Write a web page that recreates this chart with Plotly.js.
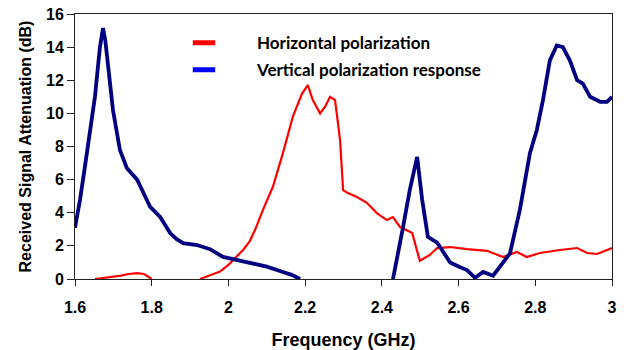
<!DOCTYPE html>
<html><head><meta charset="utf-8">
<script src="https://cdn.plot.ly/plotly-3.0.1.min.js"></script>
<style>html,body{margin:0;padding:0;background:#fff}</style>
</head><body><div id="chart" style="width:624px;height:350px"></div>
<script>
// Horizontal polarization (GHz, dB)
const hFreq = [1.652,1.67,1.699,1.72,1.74,1.762,1.78,1.796,1.80,null,
  1.926,1.95,1.978,2.0,2.022,2.04,2.056,2.07,2.09,2.116,2.142,2.168,2.192,2.207,2.22,2.239,2.252,2.265,2.278,2.291,2.299,2.31,2.335,2.361,2.387,2.413,2.429,2.447,2.473,2.479,2.499,2.525,2.544,2.578,2.622,2.674,2.716,2.752,2.778,2.812,2.864,2.909,2.935,2.961,3.0];
const hAtt = [0,0.05,0.15,0.2,0.3,0.35,0.3,0.1,0,null,
  0,0.2,0.45,0.85,1.35,1.8,2.3,3.0,4.17,5.57,7.6,9.8,11.2,11.7,10.8,10.0,10.4,11.0,10.8,8.4,5.37,5.2,4.95,4.6,3.98,3.56,3.74,3.14,2.85,2.78,1.1,1.45,1.87,1.93,1.8,1.7,1.33,1.63,1.33,1.57,1.75,1.87,1.57,1.51,1.87];
// Vertical polarization response (GHz, dB)
const vFreq = [1.6,1.613,1.626,1.639,1.652,1.665,1.673,1.679,1.686,1.699,1.717,1.735,1.762,1.78,1.796,1.822,1.848,1.865,1.882,1.918,1.952,1.986,2.022,2.064,2.1,2.142,2.165,2.187,null,
  2.429,2.44,2.455,2.473,2.492,2.505,2.52,2.544,2.578,2.60,2.622,2.643,2.664,2.69,2.708,2.734,2.76,2.786,2.804,2.82,2.838,2.856,2.872,2.89,2.909,2.924,2.943,2.969,2.987,3.0];
const vAtt = [3.1,4.77,6.8,8.8,11.0,14.0,15.15,14.4,12.8,10.2,7.8,6.7,6.0,5.1,4.35,3.75,2.77,2.4,2.17,2.05,1.8,1.33,1.15,0.96,0.75,0.42,0.25,0,null,
  0,1.2,3.1,5.4,7.37,4.8,2.55,2.2,1.0,0.75,0.54,0.07,0.43,0.2,0.74,1.55,4.2,7.6,9.0,10.8,13.2,14.1,14.0,13.2,12.0,11.8,11.0,10.7,10.7,11.0];
const xTicks = [1.6,1.8,2,2.2,2.4,2.6,2.8,3];
const xTickText = ['1.6','1.8','2','2.2','2.4','2.6','2.8','3'];
const yTicks = [0,2,4,6,8,10,12,14,16];

const traces = [
  {x:hFreq, y:hAtt, mode:'lines', line:{color:'#ff0000', width:2.2}, showlegend:false, connectgaps:false, hoverinfo:'skip'},
  {x:vFreq, y:vAtt, mode:'lines', line:{color:'#000080', width:3.8}, showlegend:false, connectgaps:false, hoverinfo:'skip'},
  {x:[null], y:[null], mode:'markers', name:'Horizontal polarization', legendgroup:'h',
    marker:{symbol:'line-ew', size:20, color:'#ff0000', line:{color:'#ff0000', width:5}}},
  {x:[null], y:[null], mode:'markers', name:'Vertical polarization response', legendgroup:'v',
    marker:{symbol:'line-ew', size:20, color:'#0000ff', line:{color:'#0000ff', width:5}}}
];
const fam = 'Liberation Sans, Arial, sans-serif';
const axFont = {family:fam, size:16, color:'#000', weight:700};
const layout = {
  width:624, height:350,
  margin:{l:75, r:12, t:14, b:71},
  paper_bgcolor:'#fff', plot_bgcolor:'#fff',
  showlegend:true,
  legend:{x:0.1415, y:0.958, xanchor:'left', yanchor:'top', bgcolor:'rgba(0,0,0,0)', traceorder:'grouped',
    itemsizing:'trace',
    font:{family:'Lato, sans-serif', size:17, color:'#000', weight:700}, itemwidth:96, tracegroupgap:2},
  xaxis:{range:[1.6,3], tickvals:xTicks, ticktext:xTickText, ticks:'outside', ticklen:6, tickcolor:'#222',
    ticklabelstandoff:8,
    showline:true, linecolor:'#222', linewidth:1, mirror:true, showgrid:false, zeroline:false,
    tickfont:axFont,
    title:{text:'Frequency (GHz)', font:{family:fam, size:18, color:'#000', weight:700}, standoff:18}},
  yaxis:{range:[0,16], tickvals:yTicks, ticks:'outside', ticklen:7, tickcolor:'#222',
    showline:true, linecolor:'#222', linewidth:1, mirror:true, showgrid:false, zeroline:false,
    tickfont:axFont,
    title:{text:'Received Signal Attenuation (dB)', font:{family:fam, size:16, color:'#000', weight:700}, standoff:10}}
};
Plotly.newPlot('chart', traces, layout, {staticPlot:true, displayModeBar:false});
</script></body></html>
